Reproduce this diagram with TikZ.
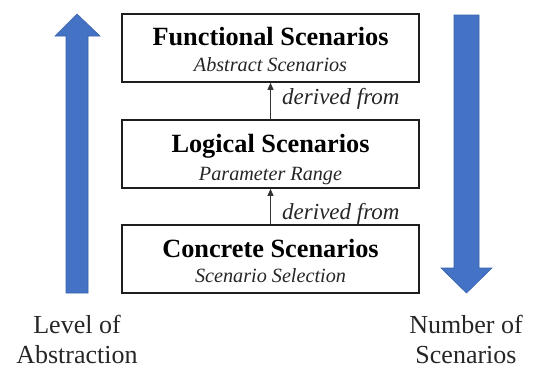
\documentclass[tikz,border=0pt]{standalone}
\usepackage{fontspec}
\setmainfont{Liberation Serif}
\usetikzlibrary{arrows.meta}
\definecolor{officeblue}{HTML}{4472C4}
\definecolor{blueedge}{HTML}{3A63AD}
\definecolor{boxline}{HTML}{1E1E1E}
\tikzset{
  levelbox/.style={draw=boxline, line width=1.7pt, fill=white, minimum width=297pt, minimum height=68pt, inner sep=0pt},
  titletext/.style={anchor=base, inner sep=0pt, font=\fontsize{26.3}{30}\selectfont\bfseries},
  subtext/.style={anchor=base, inner sep=0pt, font=\fontsize{20.2}{24}\selectfont\itshape, text=black!85},
  derivedtext/.style={anchor=base west, inner sep=0pt, font=\fontsize{23}{27}\selectfont\itshape, text=black!85},
  sidetext/.style={anchor=base, inner sep=0pt, font=\fontsize{26}{30}\selectfont, text=black!85},
  derivedarrow/.style={draw=black!80, line width=0.8pt, -{Triangle[length=7pt,width=6pt]}},
  bigarrow/.style={fill=officeblue, draw=blueedge, line width=0.6pt}
}
\begin{document}
\begin{tikzpicture}[x=1pt,y=-1pt]
\useasboundingbox (0,0) rectangle (534,370);
% big arrows
\draw[bigarrow] (66,293) -- (66,36) -- (55,36) -- (77,14) -- (100,36) -- (88,36) -- (88,293) -- cycle;
\draw[bigarrow] (454,15) -- (479,15) -- (479,268) -- (492,268) -- (466.5,293) -- (441,268) -- (454,268) -- cycle;
% boxes
\node[levelbox] (func) at (270.5,48) {};
\node[levelbox] (logi) at (270.5,154) {};
\node[levelbox] (conc) at (270.5,259) {};
% box texts
\node[titletext] (functitle) at (270.5,45) {Functional Scenarios};
\node[subtext] (funcsub) at (270.5,71) {Abstract Scenarios};
\node[titletext] (logititle) at (270.5,152) {Logical Scenarios};
\node[subtext] (logisub) at (270.5,180) {Parameter Range};
\node[titletext] (conctitle) at (270.5,257) {Concrete Scenarios};
\node[subtext] (concsub) at (270.5,282) {Scenario Selection};
% derived arrows
\draw[derivedarrow] (logi.north) -- (func.south);
\draw[derivedarrow] (conc.north) -- (logi.south);
\node[derivedtext] (d1) at (282,104) {derived from};
\node[derivedtext] (d2) at (282,219) {derived from};
% side labels
\node[sidetext] (lev1) at (77,333) {Level of};
\node[sidetext] (lev2) at (77,363) {Abstraction};
\node[sidetext] (num1) at (466,333) {Number of};
\node[sidetext] (num2) at (466,363) {Scenarios};
\end{tikzpicture}
\end{document}
